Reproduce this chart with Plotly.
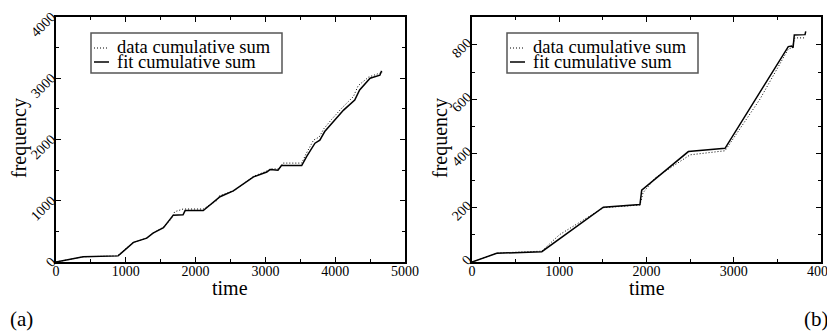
import plotly.graph_objects as go

# Panel (a)
a_fit_t = [0, 390, 890, 1110, 1300, 1390, 1540, 1680, 1820, 1850, 2110, 2300, 2350, 2540, 2830,
           3020, 3070, 3180, 3230, 3520, 3590, 3710, 3780, 3850, 3970, 4120, 4280, 4350, 4500, 4640, 4665]
a_fit_f = [0, 87, 100, 320, 390, 470, 560, 765, 770, 840, 840, 1010, 1065, 1160, 1390,
           1470, 1510, 1500, 1575, 1575, 1720, 1940, 1990, 2130, 2290, 2480, 2645, 2810, 3000, 3050, 3120]
a_dat_t = [0, 390, 880, 1100, 1290, 1400, 1530, 1650, 1700, 1820, 2110, 2300, 2340, 2560, 2830,
           3010, 3070, 3200, 3250, 3520, 3580, 3690, 3770, 3840, 3950, 4100, 4260, 4330, 4480, 4680]
a_dat_f = [0, 85, 100, 315, 385, 480, 560, 700, 820, 865, 865, 1000, 1080, 1170, 1400,
           1480, 1520, 1520, 1615, 1615, 1760, 1990, 2040, 2180, 2330, 2520, 2700, 2880, 3020, 3100]

# Panel (b)
b_fit_t = [0, 283, 800, 1505, 1925, 1945, 2480, 2900, 3625, 3664, 3680, 3694, 3817, 3825]
b_fit_f = [0, 32, 38, 202, 212, 265, 407, 419, 794, 796, 790, 837, 838, 850]
b_dat_t = [0, 283, 800, 1000, 1505, 1925, 1960, 2100, 2500, 2900, 3300, 3625, 3670, 3700, 3820]
b_dat_f = [0, 33, 40, 100, 200, 210, 255, 310, 395, 410, 600, 785, 790, 826, 826]

legend_labels = ["data cumulative sum", "fit cumulative sum"]

SERIF = "Liberation Serif"
OFF = 8                      # page body margin
W, H = 835 - OFF, 334 - OFF  # figure size so that it fills the window exactly


def px(x):
    return (x - OFF) / W


def py(y):
    return 1 - (y - OFF) / H


fig = go.Figure()
dot = dict(color="black", width=1, dash="1px,2px")
solid = dict(color="black", width=1.5)
fig.add_trace(go.Scatter(x=a_dat_t, y=a_dat_f, mode="lines", name=legend_labels[0],
                         line=dot, xaxis="x", yaxis="y", showlegend=False))
fig.add_trace(go.Scatter(x=a_fit_t, y=a_fit_f, mode="lines", name=legend_labels[1],
                         line=solid, xaxis="x", yaxis="y", showlegend=False))
fig.add_trace(go.Scatter(x=b_dat_t, y=b_dat_f, mode="lines", name=legend_labels[0],
                         line=dot, xaxis="x2", yaxis="y2", showlegend=False))
fig.add_trace(go.Scatter(x=b_fit_t, y=b_fit_f, mode="lines", name=legend_labels[1],
                         line=solid, xaxis="x2", yaxis="y2", showlegend=False))


def axis(**kw):
    d = dict(showline=True, linecolor="black", linewidth=1.5, mirror="ticks",
             ticks="inside", ticklen=5, tickwidth=1.2, tickcolor="black",
             showgrid=False, zeroline=False, automargin=False, ticklabeloverflow="allow",
             tickfont=dict(family=SERIF, size=14, color="black"))
    d.update(kw)
    return d


ydom = [py(262), py(17)]
minor = lambda dt: dict(dtick=dt, ticks="inside", ticklen=3, tickwidth=1, tickcolor="black")

shapes = []
annotations = []
for x0, xc in [(91, (56 + 405) / 2), (507, (472 + 821) / 2)]:
    shapes.append(dict(type="rect", xref="paper", yref="paper",
                       x0=px(x0), x1=px(x0 + 191), y0=py(73), y1=py(33),
                       line=dict(color="#555", width=1.5), fillcolor="white", layer="above"))
    shapes.append(dict(type="line", xref="paper", yref="paper",
                       x0=px(x0 + 3), x1=px(x0 + 18), y0=py(48), y1=py(48),
                       line=dot, layer="above"))
    shapes.append(dict(type="line", xref="paper", yref="paper",
                       x0=px(x0 + 3), x1=px(x0 + 18), y0=py(62), y1=py(62),
                       line=solid, layer="above"))
    for lbl, yy in zip(legend_labels, [47.5, 61.5]):
        annotations.append(dict(text=lbl, x=px(x0 + 24), y=py(yy), xref="paper", yref="paper",
                                xanchor="left", yanchor="middle", showarrow=False,
                                font=dict(family=SERIF, size=18.5, color="black")))
    annotations.append(dict(text="time", x=px(xc), y=py(288), xref="paper", yref="paper",
                            xanchor="center", yanchor="middle", showarrow=False,
                            font=dict(family=SERIF, size=20, color="black")))

for xf in [20, 441]:
    annotations.append(dict(text="frequency", x=px(xf), y=py(138), xref="paper", yref="paper",
                            xanchor="center", yanchor="middle", showarrow=False, textangle=-90,
                            font=dict(family=SERIF, size=20, color="black")))
annotations.append(dict(text="(a)", x=px(8), y=py(319), xref="paper", yref="paper",
                        xanchor="left", yanchor="middle", showarrow=False,
                        font=dict(family=SERIF, size=21, color="black")))
annotations.append(dict(text="(b)", x=px(831), y=py(319), xref="paper", yref="paper",
                        xanchor="right", yanchor="middle", showarrow=False,
                        font=dict(family=SERIF, size=21, color="black")))

fig.update_layout(
    width=W, height=H, margin=dict(l=0, r=0, t=0, b=0, autoexpand=False),
    paper_bgcolor="white", plot_bgcolor="white", showlegend=False,
    xaxis=axis(domain=[px(56), px(405)], range=[0, 5000], dtick=1000, minor=minor(500),
               ticklabelstandoff=-5),
    yaxis=axis(domain=ydom, range=[0, 4000], dtick=1000, tickangle=-45, minor=minor(500),
               ticklabelshift=-2),
    xaxis2=axis(domain=[px(472), px(821)], range=[0, 4000], dtick=1000, anchor="y2", minor=minor(500),
                ticklabelstandoff=-5),
    yaxis2=axis(domain=ydom, range=[0, 903], dtick=200, tickangle=-45, anchor="x2", minor=minor(100),
                ticklabelshift=-4),
    shapes=shapes, annotations=annotations,
)

fig.write_html("out.html")
